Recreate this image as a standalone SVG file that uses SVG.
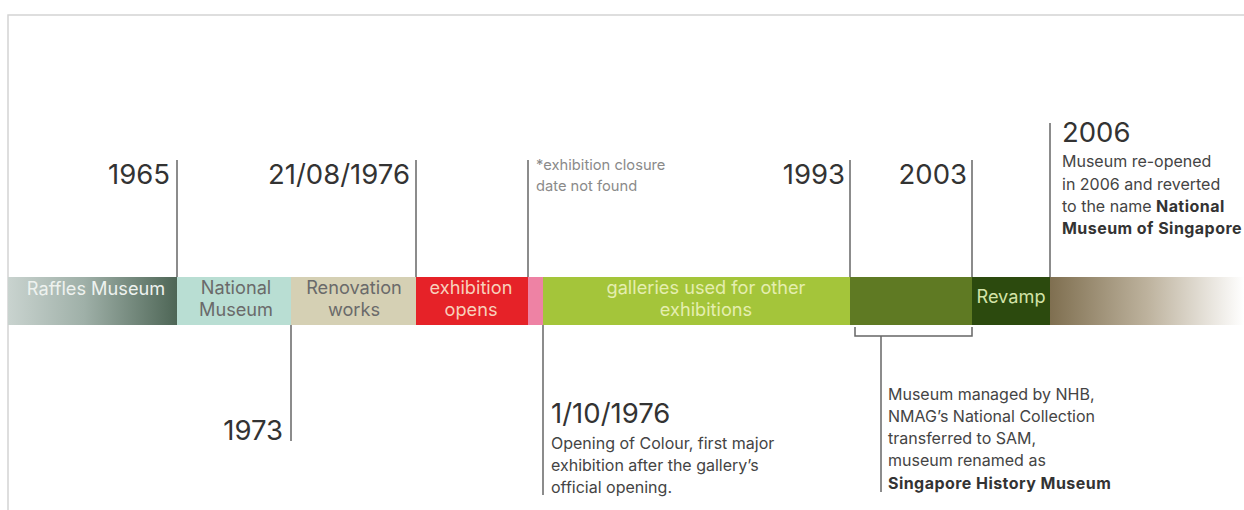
<svg xmlns="http://www.w3.org/2000/svg" width="1244" height="510" viewBox="0 0 1244 510">
<defs>
<linearGradient id="gRaffles" x1="0" y1="0" x2="1" y2="0">
<stop offset="0" stop-color="#c9d3cf"/>
<stop offset="0.45" stop-color="#9fb0a8"/>
<stop offset="1" stop-color="#4e6656"/>
</linearGradient>
<linearGradient id="gEnd" x1="0" y1="0" x2="1" y2="0">
<stop offset="0" stop-color="#7f6f50"/>
<stop offset="0.5" stop-color="#bdb29d"/>
<stop offset="1" stop-color="#ffffff"/>
</linearGradient>
<style>
.frame{fill:none;stroke:#d4d4d4;stroke-width:1.5}
.tick{stroke:#666;stroke-width:1.5;fill:none}
.year{font-family:Inter,"Liberation Sans",sans-serif;font-size:27.5px;fill:#333}
.note{font-family:Inter,"Liberation Sans",sans-serif;font-size:16px;fill:#444}
.small{font-family:Inter,"Liberation Sans",sans-serif;font-size:14.7px;fill:#8a8a8a}
.bar{font-family:Inter,"Liberation Sans",sans-serif;font-size:18.2px;text-anchor:middle}
.b{font-weight:bold;fill:#333;letter-spacing:0.45px}
</style>
</defs>
<rect width="1244" height="510" fill="#ffffff"/>
<path class="frame" d="M8,510 V15 H1244"/>
<g id="segments">
<g id="seg-raffles"><rect x="8" y="277" width="169" height="48" fill="url(#gRaffles)"/><text class="bar" x="96" y="295" fill="#eef2ef">Raffles Museum</text></g>
<g id="seg-national"><rect x="177" y="277" width="114" height="48" fill="#b9ded3"/><text class="bar" x="236" y="294" fill="#6a6a6a">National</text><text class="bar" x="236" y="316" fill="#6a6a6a">Museum</text></g>
<g id="seg-renovation"><rect x="291" y="277" width="125" height="48" fill="#d5d0b4"/><text class="bar" x="354" y="294" fill="#6a6a6a">Renovation</text><text class="bar" x="354" y="316" fill="#6a6a6a">works</text></g>
<g id="seg-exhibition"><rect x="416" y="277" width="112" height="48" fill="#e62228"/><text class="bar" x="471" y="294" fill="#f7d0bc">exhibition</text><text class="bar" x="471" y="316" fill="#f7d0bc">opens</text></g>
<g id="seg-pink"><rect x="528" y="277" width="15" height="48" fill="#ee82a4"/></g>
<g id="seg-galleries"><rect x="543" y="277" width="307" height="48" fill="#a4c53a"/><text class="bar" x="706" y="294" fill="#e4eeb0">galleries used for other</text><text class="bar" x="706" y="316" fill="#e4eeb0">exhibitions</text></g>
<g id="seg-2003"><rect x="850" y="277" width="122" height="48" fill="#5f7a23"/></g>
<g id="seg-revamp"><rect x="972" y="277" width="78" height="48" fill="#2c4a0e"/><text class="bar" x="1011" y="303" fill="#d3e3a8" font-size="15.5">Revamp</text></g>
<g id="seg-end"><rect x="1050" y="277" width="194" height="48" fill="url(#gEnd)"/></g>
</g>
<g id="connectors">
<line class="tick" x1="177" y1="160" x2="177" y2="277"/>
<line class="tick" x1="416" y1="160" x2="416" y2="277"/>
<line class="tick" x1="528" y1="160" x2="528" y2="277"/>
<line class="tick" x1="850" y1="160" x2="850" y2="277"/>
<line class="tick" x1="972" y1="160" x2="972" y2="277"/>
<line class="tick" x1="1050" y1="123" x2="1050" y2="277"/>
<line class="tick" x1="291" y1="325" x2="291" y2="441"/>
<line class="tick" x1="543" y1="325" x2="543" y2="495"/>
<path class="tick" d="M855,327 V336 H972 V327"/>
<line class="tick" x1="881" y1="336" x2="881" y2="492"/>
</g>
<g id="label-1965"><text class="year" x="170" y="184" text-anchor="end">1965</text></g>
<g id="label-1976a"><text class="year" x="410" y="184" text-anchor="end">21/08/1976</text></g>
<g id="label-closure"><text class="small" x="536" y="170">*exhibition closure</text><text class="small" x="536" y="191">date not found</text></g>
<g id="label-1993"><text class="year" x="845" y="184" text-anchor="end">1993</text></g>
<g id="label-2003"><text class="year" x="967" y="184" text-anchor="end">2003</text></g>
<g id="label-2006"><text class="year" x="1062" y="142">2006</text>
<text class="note" x="1062" y="167">Museum re-opened</text>
<text class="note" x="1062" y="190">in 2006 and reverted</text>
<text class="note" x="1062" y="212">to the name <tspan class="b">National</tspan></text>
<text class="note" x="1062" y="234"><tspan class="b">Museum of Singapore</tspan></text></g>
<g id="label-1973"><text class="year" x="283" y="440" text-anchor="end">1973</text></g>
<g id="label-1976b"><text class="year" x="551" y="423">1/10/1976</text>
<text class="note" x="551" y="449">Opening of Colour, first major</text>
<text class="note" x="551" y="471">exhibition after the gallery’s</text>
<text class="note" x="551" y="493">official opening.</text></g>
<g id="label-nhb">
<text class="note" x="888" y="400">Museum managed by NHB,</text>
<text class="note" x="888" y="422">NMAG’s National Collection</text>
<text class="note" x="888" y="444">transferred to SAM,</text>
<text class="note" x="888" y="466">museum renamed as</text>
<text class="note" x="888" y="489"><tspan class="b">Singapore History Museum</tspan></text></g>
</svg>
